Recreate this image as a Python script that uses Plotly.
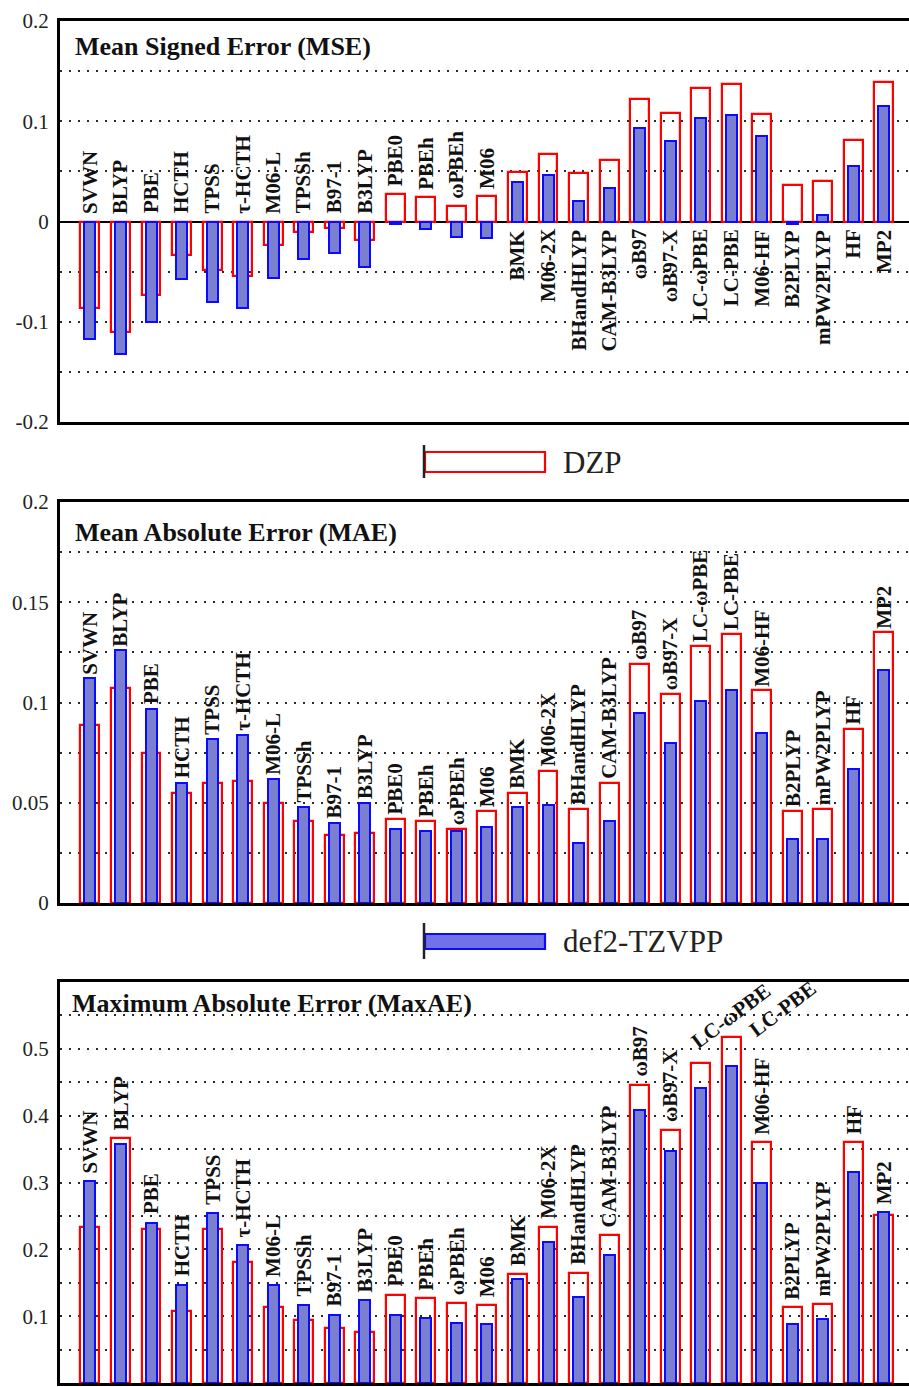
import plotly.graph_objects as go
from plotly.subplots import make_subplots

# ---- data -------------------------------------------------------------
methods = ["SVWN", "BLYP", "PBE", "HCTH", "TPSS", "τ-HCTH", "M06-L", "TPSSh",
           "B97-1", "B3LYP", "PBE0", "PBEh", "ωPBEh", "M06", "BMK", "M06-2X",
           "BHandHLYP", "CAM-B3LYP", "ωB97", "ωB97-X", "LC-ωPBE", "LC-PBE",
           "M06-HF", "B2PLYP", "mPW2PLYP", "HF", "MP2"]

mse_dzp = [-0.086, -0.110, -0.073, -0.033, -0.048, -0.054, -0.023, -0.010, -0.006,
           -0.018, 0.027, 0.024, 0.015, 0.025, 0.049, 0.067, 0.048, 0.061, 0.122,
           0.108, 0.133, 0.137, 0.107, 0.036, 0.040, 0.081, 0.139]
mse_tzvpp = [-0.117, -0.132, -0.100, -0.057, -0.080, -0.086, -0.056, -0.037, -0.031,
             -0.045, -0.002, -0.007, -0.015, -0.016, 0.039, 0.046, 0.020, 0.033, 0.093,
             0.080, 0.103, 0.106, 0.085, -0.002, 0.006, 0.055, 0.115]

mae_dzp = [0.089, 0.107, 0.075, 0.055, 0.060, 0.061, 0.050, 0.041, 0.034, 0.035,
           0.042, 0.041, 0.037, 0.046, 0.055, 0.066, 0.047, 0.060, 0.119, 0.104,
           0.128, 0.134, 0.106, 0.046, 0.047, 0.087, 0.135]
mae_tzvpp = [0.112, 0.126, 0.097, 0.060, 0.082, 0.084, 0.062, 0.048, 0.040, 0.050,
             0.037, 0.036, 0.036, 0.038, 0.048, 0.049, 0.030, 0.041, 0.095, 0.080,
             0.101, 0.106, 0.085, 0.032, 0.032, 0.067, 0.116]

maxae_dzp = [0.233, 0.367, 0.231, 0.108, 0.230, 0.181, 0.113, 0.094, 0.083, 0.077,
             0.132, 0.127, 0.120, 0.117, 0.163, 0.233, 0.165, 0.221, 0.446, 0.378,
             0.479, 0.518, 0.360, 0.113, 0.118, 0.360, 0.251]
maxae_tzvpp = [0.302, 0.358, 0.240, 0.147, 0.255, 0.206, 0.147, 0.117, 0.102, 0.124,
               0.102, 0.098, 0.090, 0.088, 0.156, 0.211, 0.129, 0.191, 0.408, 0.347,
               0.441, 0.475, 0.299, 0.088, 0.096, 0.315, 0.256]

# methods whose MSE label hangs below the zero line
mse_labels_below = ["BMK", "M06-2X", "BHandHLYP", "CAM-B3LYP", "ωB97", "ωB97-X",
                    "LC-ωPBE", "LC-PBE", "M06-HF", "B2PLYP", "mPW2PLYP", "HF", "MP2"]
# methods whose MaxAE label is slanted to stay inside the frame
maxae_slanted = ["LC-ωPBE", "LC-PBE"]

panel_titles = ["Mean Signed Error (MSE)", "Mean Absolute Error (MAE)",
                "Maximum Absolute Error (MaxAE)"]
series_names = ["DZP", "def2-TZVPP"]

mse_ticks = [-0.2, -0.15, -0.1, -0.05, 0, 0.05, 0.1, 0.15, 0.2]
mse_ticktext = ["-0.2", "", "-0.1", "", "0", "", "0.1", "", "0.2"]
mae_ticks = [0, 0.025, 0.05, 0.075, 0.1, 0.125, 0.15, 0.175, 0.2]
mae_ticktext = ["0", "", "0.05", "", "0.1", "", "0.15", "", "0.2"]
maxae_ticks = [0, 0.05, 0.1, 0.15, 0.2, 0.25, 0.3, 0.35, 0.4, 0.45, 0.5, 0.55]
maxae_ticktext = ["0", "", "0.1", "", "0.2", "", "0.3", "", "0.4", "", "0.5", ""]

# ---- layout helpers ---------------------------------------------------
W, H = 909, 1387
LEFT = 60
SERIF = "Liberation Serif"


def px(x):
    return (x - LEFT) / (W - LEFT)


def py(y):
    return 1 - y / H


panels = [
    dict(dzp=mse_dzp, tz=mse_tzvpp, rng=[-0.2, 0.2], ticks=mse_ticks,
         ticktext=mse_ticktext, top=21, bottom=422, title_y=46, title_x=73),
    dict(dzp=mae_dzp, tz=mae_tzvpp, rng=[0, 0.2], ticks=mae_ticks,
         ticktext=mae_ticktext, top=502, bottom=903, title_y=532, title_x=73),
    dict(dzp=maxae_dzp, tz=maxae_tzvpp, rng=[0, 0.6], ticks=maxae_ticks,
         ticktext=maxae_ticktext, top=982, bottom=1383, title_y=1003, title_x=70),
]

fig = make_subplots(rows=3, cols=1)

RED = "#ff0000"
BLUE_LINE = "#0a0aff"
BLUE_FILL = "#7b7fcf"
GRID = "#2a2a2a"

annotations = []
label_font = dict(family=SERIF, size=21, color="#111", weight="bold")

for i, p in enumerate(panels):
    row = i + 1
    fig.add_trace(go.Bar(x=methods, y=p["dzp"], width=0.62, name=series_names[0],
                         marker=dict(color="rgba(0,0,0,0)",
                                     line=dict(color=RED, width=2.2)),
                         showlegend=False), row=row, col=1)
    fig.add_trace(go.Bar(x=methods, y=p["tz"], width=0.36, name=series_names[1],
                         marker=dict(color=BLUE_FILL,
                                     line=dict(color=BLUE_LINE, width=2)),
                         showlegend=False), row=row, col=1)

    sfx = "" if row == 1 else str(row)
    fig.layout[f"xaxis{sfx}"].update(
        domain=[0, 1], range=[-0.98, 26.82], showticklabels=False, ticks="",
        showgrid=False, zeroline=False, showline=True, mirror=True,
        linecolor="black", linewidth=3, fixedrange=True, automargin=False)
    fig.layout[f"yaxis{sfx}"].update(
        domain=[py(p["bottom"]), py(p["top"])], range=p["rng"],
        tickmode="array", tickvals=p["ticks"], ticktext=p["ticktext"], ticks="",
        showgrid=True, gridcolor=GRID, gridwidth=1.6, griddash="2px,7px",
        zeroline=(row == 1), zerolinecolor="black", zerolinewidth=2.2,
        showline=True, linecolor="black", linewidth=3, mirror=False,
        ticklabelstandoff=4, automargin=False,
        tickfont=dict(family=SERIF, size=21, color="#222"), fixedrange=True)

    # panel title
    annotations.append(dict(
        text=panel_titles[i], xref=f"x{sfx} domain", yref="paper",
        x=(p["title_x"] - LEFT) / (W - LEFT), y=py(p["title_y"]),
        xanchor="left", yanchor="middle", showarrow=False,
        font=dict(family=SERIF, size=26, color="#111", weight="bold")))

    # method labels next to the bars
    for name, a, b in zip(methods, p["dzp"], p["tz"]):
        ann = dict(text=name, x=name, xref=f"x{sfx}", yref=f"y{sfx}",
                   showarrow=False, textangle=-90, font=label_font,
                   xanchor="center", borderpad=0)
        if row == 1:
            if name in mse_labels_below:
                ann.update(y=0, yanchor="top", yshift=-7)
            else:
                ann.update(y=max(a, b, 0), yanchor="bottom", yshift=7)
        elif row == 2:
            ann.update(y=max(a, b), yanchor="bottom", yshift=3)
        else:
            if name in maxae_slanted:
                ann.update(y=max(a, b), yanchor="bottom", xanchor="left",
                           textangle=-37)
                if name == "LC-ωPBE":
                    ann.update(xshift=-15, yshift=8)
                else:
                    ann.update(xshift=12, yshift=-6)
            else:
                ann.update(y=max(a, b), yanchor="bottom", yshift=7)
        annotations.append(ann)

# ---- legend keys between the panels ----------------------------------
shapes = []
legend_items = [
    dict(name=series_names[0], tick=(445, 478), box=(452, 472), fill="rgba(0,0,0,0)",
         line=RED, ytext=462),
    dict(name=series_names[1], tick=(923, 959), box=(934, 949), fill="#7272e8",
         line=BLUE_LINE, ytext=941),
]
for item in legend_items:
    shapes.append(dict(type="rect", xref="paper", yref="paper",
                       x0=px(425), x1=px(545), y0=py(item["box"][1]), y1=py(item["box"][0]),
                       fillcolor=item["fill"], line=dict(color=item["line"], width=2.2)))
    shapes.append(dict(type="line", xref="paper", yref="paper",
                       x0=px(424), x1=px(424), y0=py(item["tick"][1]), y1=py(item["tick"][0]),
                       line=dict(color="#222", width=2.5)))
    annotations.append(dict(text=item["name"], xref="paper", yref="paper",
                            x=px(561), y=py(item["ytext"]), xanchor="left",
                            yanchor="middle", showarrow=False,
                            font=dict(family=SERIF, size=31, color="#222")))

fig.update_layout(
    width=W, height=H, barmode="overlay", bargap=0,
    margin=dict(l=LEFT, r=0, t=0, b=0, autoexpand=False),
    paper_bgcolor="white", plot_bgcolor="white",
    annotations=annotations, shapes=shapes, showlegend=False,
)

fig.write_html("out.html")
